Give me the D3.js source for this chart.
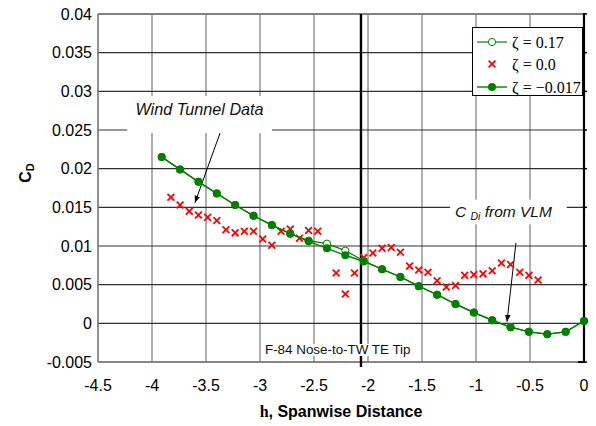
<!DOCTYPE html>
<html><head><meta charset="utf-8">
<script src="https://cdn.jsdelivr.net/npm/d3@7/dist/d3.min.js"></script>
<style>body{margin:0;background:#fff;} svg{display:block;}</style>
</head><body>
<svg id="c" width="596" height="426"></svg>
<script>
// ---- data ----
const xTicks = [-4.5,-4,-3.5,-3,-2.5,-2,-1.5,-1,-0.5,0];
const xTickLabels = ["-4.5","-4","-3.5","-3","-2.5","-2","-1.5","-1","-0.5","0"];
const yTicks = [-0.005,0,0.005,0.01,0.015,0.02,0.025,0.03,0.035,0.04];
const yTickLabels = ["-0.005","0","0.005","0.01","0.015","0.02","0.025","0.03","0.035","0.04"];

const hVLM = [-3.91,-3.74,-3.57,-3.40,-3.23,-3.06,-2.89,-2.72,-2.55,-2.38,-2.21,-2.04,-1.87,-1.70,-1.53,-1.36,-1.19,-1.02,-0.85,-0.68,-0.51,-0.34,-0.17,0];
const cdZetaPos = [0.0215,0.0199,0.0183,0.0168,0.0153,0.0139,0.0127,0.0116,0.0107,0.0103,0.0094,0.0081,0.0070,0.0060,0.0048,0.0037,0.0025,0.0014,0.0004,-0.0005,-0.0011,-0.0014,-0.0011,0.0003];
const cdZetaNeg = [0.0215,0.0199,0.0183,0.0168,0.0153,0.0139,0.0127,0.0116,0.0106,0.0097,0.0088,0.0080,0.0070,0.0060,0.0048,0.0037,0.0025,0.0014,0.0004,-0.0005,-0.0011,-0.0014,-0.0011,0.0003];

const hWT = [-3.825,-3.74,-3.655,-3.57,-3.485,-3.40,-3.315,-3.23,-3.145,-3.06,-2.975,-2.89,-2.805,-2.72,-2.635,-2.55,-2.465,-2.38,-2.295,-2.21,-2.125,-2.04,-1.955,-1.87,-1.785,-1.70,-1.615,-1.53,-1.445,-1.36,-1.275,-1.19,-1.105,-1.02,-0.935,-0.85,-0.765,-0.68,-0.595,-0.51,-0.425];
const cdWT = [0.0163,0.0153,0.0145,0.0140,0.0137,0.0133,0.0121,0.0117,0.0119,0.0119,0.0109,0.0101,0.0119,0.0122,0.0110,0.0120,0.0119,0.0101,0.0065,0.0038,0.0065,0.0085,0.0091,0.0097,0.0098,0.0092,0.0074,0.0069,0.0066,0.0055,0.0047,0.0049,0.0062,0.0063,0.0064,0.0068,0.0078,0.0076,0.0066,0.0062,0.0056];

const seriesNames = ["0.17","0.0","\u22120.017"];
const refLineH = -2.065;
const refLineLabel = "F-84 Nose-to-TW TE Tip";
const xTitle = ", Spanwise Distance";

// ---- setup ----
const svg = d3.select("#c");
const x = d3.scaleLinear().domain([-4.5,0]).range([98,584]);
const y = d3.scaleLinear().domain([-0.005,0.04]).range([362,14]);
const green = "#008000", red = "#ff0000";
const sans = "Liberation Sans, Arial, sans-serif";

// grid
svg.append("g").selectAll("line").data(xTicks).join("line")
  .attr("x1",d=>x(d)).attr("x2",d=>x(d)).attr("y1",y(0.04)).attr("y2",y(-0.005))
  .attr("stroke","#7a7a7a").attr("stroke-width",1.2);
svg.append("g").selectAll("line").data(yTicks).join("line")
  .attr("x1",x(-4.5)).attr("x2",x(0)).attr("y1",d=>y(d)).attr("y2",d=>y(d))
  .attr("stroke","#303030").attr("stroke-width",1.1);
// frame
svg.append("line").attr("x1",x(-4.5)).attr("x2",x(0)).attr("y1",y(0.04)).attr("y2",y(0.04)).attr("stroke","#808080").attr("stroke-width",2);
svg.append("line").attr("x1",x(-4.5)).attr("x2",x(0)).attr("y1",y(-0.005)).attr("y2",y(-0.005)).attr("stroke","#808080").attr("stroke-width",1.6);
svg.append("line").attr("x1",x(-4.5)).attr("x2",x(-4.5)).attr("y1",y(0.04)).attr("y2",y(-0.005)).attr("stroke","#808080").attr("stroke-width",1.4);
svg.append("line").attr("x1",x(0)).attr("x2",x(0)).attr("y1",y(0.04)-1).attr("y2",y(-0.005)+1).attr("stroke","#000").attr("stroke-width",2.2);
svg.append("g").selectAll("line").data(yTicks).join("line")
  .attr("x1",x(0)).attr("x2",x(0)+3).attr("y1",d=>y(d)).attr("y2",d=>y(d)).attr("stroke","#000").attr("stroke-width",1.5);
svg.append("line").attr("x1",x(0)-6).attr("x2",x(0)).attr("y1",y(-0.005)).attr("y2",y(-0.005)).attr("stroke","#000").attr("stroke-width",2);

// reference vertical line
svg.append("line").attr("x1",x(refLineH)).attr("x2",x(refLineH)).attr("y1",y(0.04)).attr("y2",y(-0.005)+5)
  .attr("stroke","#000").attr("stroke-width",2.4);

// tick labels
svg.append("g").selectAll("text").data(yTicks).join("text")
  .attr("x",92).attr("y",d=>y(d)+5.5).attr("text-anchor","end")
  .attr("font-family",sans).attr("font-size",16)
  .text((d,i)=>yTickLabels[i]);
svg.append("g").selectAll("text").data(xTicks).join("text")
  .attr("x",d=>x(d)).attr("y",391).attr("text-anchor","middle")
  .attr("font-family",sans).attr("font-size",16)
  .text((d,i)=>xTickLabels[i]);

// axis titles
const xt = svg.append("text").attr("x",(x(-4.5)+x(0))/2).attr("y",417).attr("text-anchor","middle")
  .attr("font-size",16).attr("font-weight","bold");
xt.append("tspan").attr("font-family","Liberation Serif, Times New Roman, serif").text("h");
xt.append("tspan").attr("font-family",sans).text(xTitle);
const yt = svg.append("text").attr("transform","translate(31,173) rotate(-90)").attr("text-anchor","middle")
  .attr("font-family",sans).attr("font-size",16).attr("font-weight","bold");
yt.append("tspan").text("C");
yt.append("tspan").attr("font-size",11).attr("dy",3).text("D");

// annotation boxes
const wtBox = {h0:-4.23, h1:-2.89, c0:0.0294, c1:0.0246};
svg.append("rect").attr("x",x(wtBox.h0)).attr("y",y(wtBox.c0)).attr("width",x(wtBox.h1)-x(wtBox.h0)).attr("height",y(wtBox.c1)-y(wtBox.c0)).attr("fill","#fff");
svg.append("text").attr("x",x(-3.56)).attr("y",y(0.0270)).attr("text-anchor","middle")
  .attr("font-family",sans).attr("font-size",16.2).attr("font-style","italic").attr("fill","#111")
  .text("Wind Tunnel Data");
const vlBox = {h0:-1.24, h1:-0.16, c0:0.0160, c1:0.0128};
svg.append("rect").attr("x",x(vlBox.h0)).attr("y",y(vlBox.c0)).attr("width",x(vlBox.h1)-x(vlBox.h0)).attr("height",y(vlBox.c1)-y(vlBox.c0)).attr("fill","#fff");
const vt = svg.append("text").attr("x",x(-1.195)).attr("y",y(0.0137))
  .attr("font-family",sans).attr("font-size",15.5).attr("font-style","italic").attr("fill","#111");
vt.append("tspan").text("C ");
vt.append("tspan").attr("font-size",10.5).attr("dy",3).text("Di");
vt.append("tspan").attr("dy",-3).text("  from VLM");

// reference label
const rlBg = svg.append("rect").attr("fill","#fff");
const rl = svg.append("text").attr("x",x(-2.28)).attr("y",y(-0.0034)+4.8).attr("text-anchor","middle")
  .attr("font-family",sans).attr("font-size",13.4).attr("fill","#111").text(refLineLabel);
const bb = rl.node().getBBox();
rlBg.attr("x",bb.x-1).attr("y",bb.y+1.5).attr("width",bb.width+2).attr("height",bb.height-3);

// arrows
const defs = svg.append("defs");
defs.append("marker").attr("id","ah").attr("viewBox","0 0 10 10").attr("refX",10).attr("refY",5)
  .attr("markerWidth",7).attr("markerHeight",7).attr("orient","auto").attr("markerUnits","userSpaceOnUse")
  .append("path").attr("d","M0,1L10,5L0,9Z").attr("fill","#000");
const arrows = [[-3.37,0.0246,-3.602,0.0156],[-0.63,0.0104,-0.713,0.0002]];
svg.append("g").selectAll("line").data(arrows).join("line")
  .attr("x1",d=>x(d[0])).attr("y1",d=>y(d[1])).attr("x2",d=>x(d[2])).attr("y2",d=>y(d[3]))
  .attr("stroke","#000").attr("stroke-width",1).attr("marker-end","url(#ah)");

// series
const line = d3.line().x(d=>x(d[0])).y(d=>y(d[1]));
const wt = hWT.map((h,i)=>[h,cdWT[i]]);
const pos = hVLM.map((h,i)=>[h,cdZetaPos[i]]);
const neg = hVLM.map((h,i)=>[h,cdZetaNeg[i]]);
const xMark = "M-3.4,-3.4L3.4,3.4M-3.4,3.4L3.4,-3.4";

svg.append("g").selectAll("path").data(wt).join("path")
  .attr("transform",d=>`translate(${x(d[0])},${y(d[1])})`).attr("d",xMark)
  .attr("stroke",red).attr("stroke-width",1.8).attr("fill","none");

svg.append("path").attr("d",line(pos)).attr("fill","none").attr("stroke",green).attr("stroke-width",1.2);
svg.append("g").selectAll("circle").data(pos).join("circle")
  .attr("cx",d=>x(d[0])).attr("cy",d=>y(d[1])).attr("r",3.6).attr("fill","#fff").attr("stroke",green).attr("stroke-width",1);

svg.append("path").attr("d",line(neg)).attr("fill","none").attr("stroke",green).attr("stroke-width",1.4);
svg.append("g").selectAll("circle").data(neg).join("circle")
  .attr("cx",d=>x(d[0])).attr("cy",d=>y(d[1])).attr("r",4).attr("fill",green);

// legend
const lg = svg.append("g");
lg.append("rect").attr("x",472.5).attr("y",27.5).attr("width",110).attr("height",68).attr("fill","#fff").attr("stroke","#000").attr("stroke-width",1);
const rows = [42,64,87];
lg.append("line").attr("x1",477).attr("x2",507).attr("y1",rows[0]).attr("y2",rows[0]).attr("stroke",green).attr("stroke-width",1.2);
lg.append("circle").attr("cx",492).attr("cy",rows[0]).attr("r",3.6).attr("fill","#fff").attr("stroke",green);
lg.append("path").attr("transform",`translate(492,${rows[1]})`).attr("d",xMark).attr("stroke",red).attr("stroke-width",1.8).attr("fill","none");
lg.append("line").attr("x1",477).attr("x2",507).attr("y1",rows[2]).attr("y2",rows[2]).attr("stroke",green).attr("stroke-width",1.4);
lg.append("circle").attr("cx",492).attr("cy",rows[2]).attr("r",4).attr("fill",green);
lg.selectAll("text.l").data(seriesNames).join("text").attr("class","l")
  .attr("x",512).attr("y",(d,i)=>rows[i]+5.5)
  .attr("font-family","Liberation Serif, Times New Roman, serif").attr("font-size",16)
  .text(d=>"\u03b6 = "+d);
</script>
</body></html>
